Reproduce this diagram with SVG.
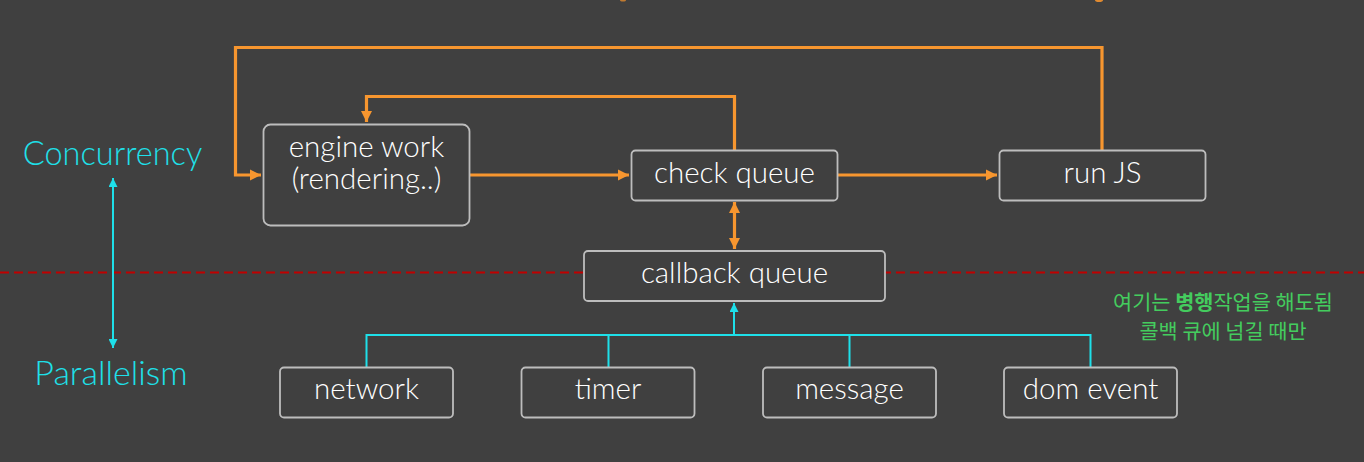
<svg xmlns="http://www.w3.org/2000/svg" width="1364" height="462" viewBox="0 0 1364 462">
  <style>
    .box { fill: #404040; stroke: #BDBDBD; stroke-width: 1.8; }
    .lbl { font-family: "Lato", "Open Sans", "Liberation Sans", sans-serif; font-weight: 300; font-size: 29.5px; fill: #FFFFFF; text-anchor: middle; }
    .side { font-family: "Lato", "Open Sans", "Liberation Sans", sans-serif; font-weight: 300; font-size: 34px; fill: #1EE0EA; text-anchor: middle; }
    .side.c { font-size: 32.5px; }
    .ko { font-family: "Noto Sans CJK KR", "Noto Sans", sans-serif; font-size: 20.8px; fill: #44CC5E; text-anchor: middle; }
    .or { fill: none; stroke: #F7962F; stroke-width: 3.2; }
    .cy { fill: none; stroke: #1EE0EA; stroke-width: 2; }
  </style>
  <defs>
    <marker id="ao" viewBox="0 0 10 10" refX="10" refY="5" markerWidth="3.5" markerHeight="3.5" orient="auto-start-reverse" markerUnits="strokeWidth">
      <path d="M0,0 L10,5 L0,10 Z" fill="#F7962F"/>
    </marker>
    <marker id="ac" viewBox="0 0 10 10" refX="10" refY="5" markerWidth="4.5" markerHeight="4.5" orient="auto-start-reverse" markerUnits="strokeWidth">
      <path d="M0,0 L10,5 L0,10 Z" fill="#1EE0EA"/>
    </marker>
  </defs>
  <rect x="0" y="0" width="1364" height="462" fill="#404040"/>
  <ellipse cx="623" cy="0" rx="3" ry="1.5" fill="#C07A30"/>
  <ellipse cx="1099" cy="0" rx="4" ry="2" fill="#E08A30"/>

  <line x1="0" y1="272.5" x2="1364" y2="272.5" stroke="#C00000" stroke-width="2.2" stroke-dasharray="9,5"/>

  <g id="connectors">
    <path class="or" d="M1102,150 V47.5 H235.5 V175 H261" marker-end="url(#ao)"/>
    <path class="or" d="M734.5,150 V96.5 H366.5 V122" marker-end="url(#ao)"/>
    <path class="or" d="M469,175 H629" marker-end="url(#ao)"/>
    <path class="or" d="M837,175 H997" marker-end="url(#ao)"/>
    <path class="or" d="M734.5,202 V249" marker-start="url(#ao)" marker-end="url(#ao)"/>
    <path class="cy" d="M366.5,367 V335 H1090.5 V367 M608.5,367 V335 M849.5,367 V335"/>
    <path class="cy" d="M734,335 V303" marker-end="url(#ac)"/>
    <path class="cy" d="M113,178 V348" marker-start="url(#ac)" marker-end="url(#ac)"/>
  </g>

  <g id="engine-work">
    <rect class="box" x="263.5" y="124.5" width="206" height="101" rx="7"/>
    <text class="lbl" x="366.5" y="157">engine work</text>
    <text class="lbl" x="366.5" y="189">(rendering..)</text>
  </g>
  <g id="check-queue">
    <rect class="box" x="631.5" y="150.5" width="206" height="50" rx="4"/>
    <text class="lbl" x="734.5" y="183">check queue</text>
  </g>
  <g id="run-js">
    <rect class="box" x="999.5" y="150.5" width="206" height="50" rx="4"/>
    <text class="lbl" x="1102.5" y="183">run JS</text>
  </g>
  <g id="callback-queue">
    <rect class="box" x="584" y="251" width="301" height="50" rx="4"/>
    <text class="lbl" x="734.5" y="283">callback queue</text>
  </g>
  <g id="network">
    <rect class="box" x="280" y="367.5" width="173" height="50" rx="4"/>
    <text class="lbl" x="366.5" y="399">network</text>
  </g>
  <g id="timer">
    <rect class="box" x="521.5" y="367.5" width="173" height="50" rx="4"/>
    <text class="lbl" x="608" y="399">timer</text>
  </g>
  <g id="message">
    <rect class="box" x="763" y="367.5" width="173" height="50" rx="4"/>
    <text class="lbl" x="849.5" y="399">message</text>
  </g>
  <g id="dom-event">
    <rect class="box" x="1004" y="367.5" width="173" height="50" rx="4"/>
    <text class="lbl" x="1090.5" y="399">dom event</text>
  </g>

  <g id="concurrency">
    <text class="side c" x="112.5" y="165">Concurrency</text>
  </g>
  <g id="parallelism">
    <text class="side" x="111" y="385">Parallelism</text>
  </g>
  <g id="note">
    <text class="ko" x="1223" y="310">여기는 <tspan font-weight="bold">병행</tspan>작업을 해도됨</text>
    <text class="ko" x="1223" y="339">콜백 큐에 넘길 때만</text>
  </g>
</svg>
